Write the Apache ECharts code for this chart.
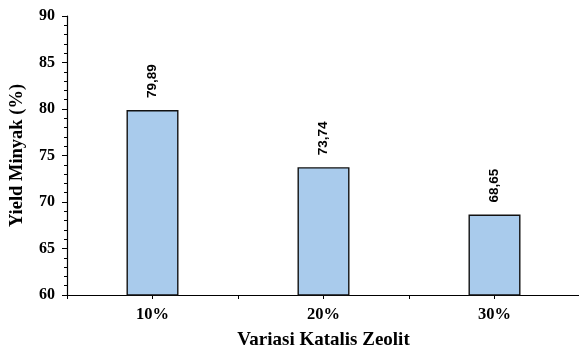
<!DOCTYPE html>
<html><head><meta charset="utf-8">
<script src="https://cdn.jsdelivr.net/npm/echarts@6/dist/echarts.min.js"></script>
<style>html,body{margin:0;padding:0;background:#fff}#c{width:579px;height:351px}</style>
</head><body><div id="c"></div>
<script>
const categories = ['10%', '20%', '30%'];
const yieldValues = [79.89, 73.74, 68.65];
const yMin = 60, yMax = 90, yStep = 5;

const chart = echarts.init(document.getElementById('c'), null, {renderer: 'canvas'});
const serif = '"Liberation Serif", "Times New Roman", serif';
chart.setOption({
  animation: false,
  grid: {left: 67, right: -1, top: 16, bottom: 56, containLabel: false, outerBoundsMode: 'none'},
  xAxis: [{
    type: 'category', data: categories,
    axisLine: {lineStyle: {color: '#000', width: 1.2}},
    axisTick: {show: true, alignWithLabel: true, length: 4, lineStyle: {color: '#000'}},
    axisLabel: {fontFamily: serif, fontWeight: 'bold', fontSize: 16.5, color: '#000', margin: 11},
    name: 'Variasi Katalis Zeolit', nameLocation: 'middle', nameGap: 36,
    nameTextStyle: {fontFamily: serif, fontWeight: 'bold', fontSize: 19, color: '#000'}
  }, {
    type: 'category', data: categories, position: 'bottom',
    axisLine: {show: false},
    axisTick: {show: true, alignWithLabel: false, length: 4, lineStyle: {color: '#000'}},
    axisLabel: {show: false}
  }],
  yAxis: {
    type: 'value', min: yMin, max: yMax, interval: yStep,
    axisLine: {show: true, lineStyle: {color: '#000', width: 1.2}},
    axisTick: {show: true, length: 5, lineStyle: {color: '#000'}},
    minorTick: {show: true, splitNumber: 5, length: 3, lineStyle: {color: '#000'}},
    splitLine: {show: false},
    axisLabel: {fontFamily: serif, fontWeight: 'bold', fontSize: 16, color: '#000', margin: 12},
    name: 'Yield Minyak (%)', nameLocation: 'middle', nameGap: 40,
    nameTextStyle: {fontFamily: serif, fontWeight: 'bold', fontSize: 18.5, color: '#000'}
  },
  series: [{
    type: 'bar', data: yieldValues, barWidth: 52, xAxisIndex: 0,
    itemStyle: {color: '#A9CBEC', borderColor: '#111', borderWidth: 1.4},
    label: {
      show: true, position: 'top', rotate: 90, align: 'left', verticalAlign: 'middle',
      distance: 12, fontFamily: '"Liberation Sans", Arial, sans-serif', fontWeight: 'bold', fontSize: 13.5, color: '#000',
      formatter: p => p.value.toFixed(2).replace('.', ',')
    }
  }]
});
</script></body></html>
